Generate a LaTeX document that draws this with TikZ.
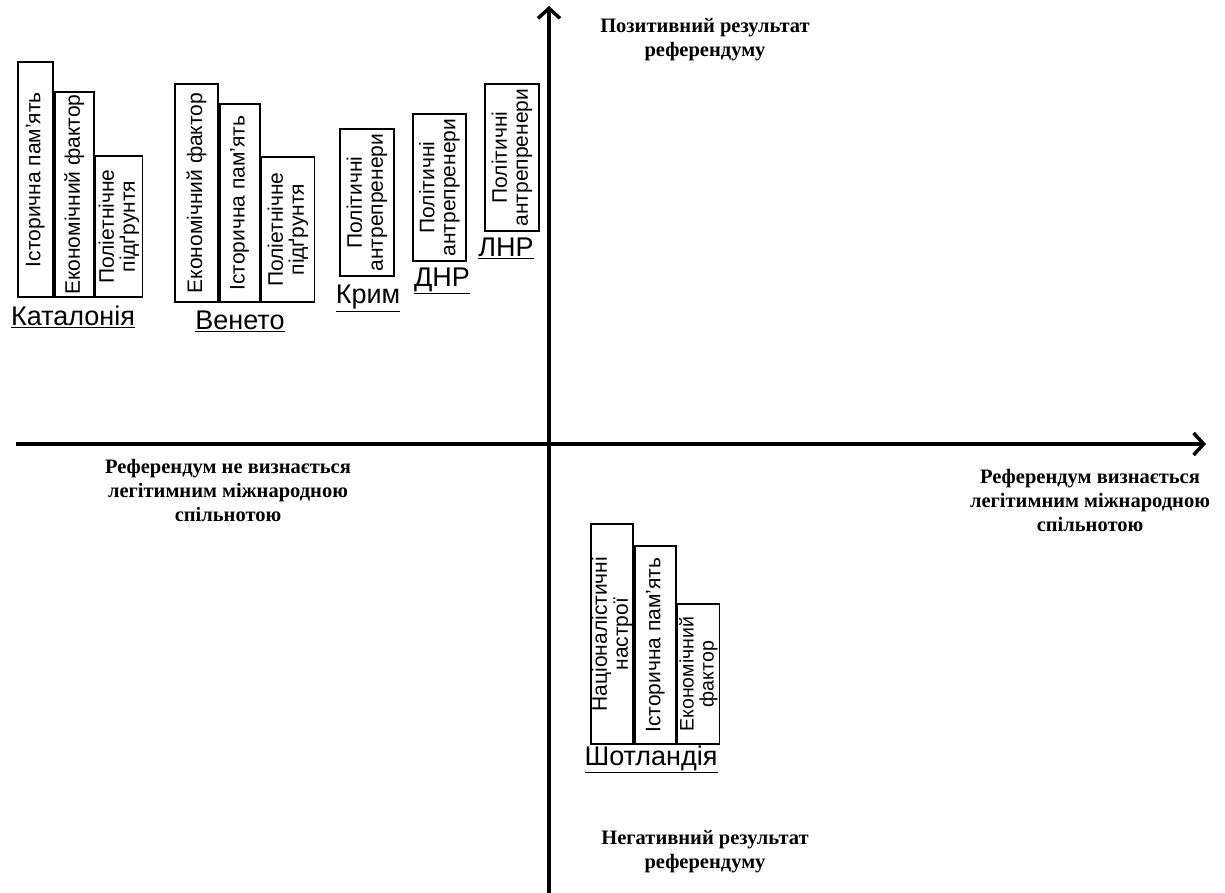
\documentclass[tikz,border=0pt]{standalone}
\usepackage{fontspec}
\setmainfont{Liberation Serif}
\setsansfont{Liberation Sans}
\usetikzlibrary{arrows.meta}
\tikzset{
  axis/.style={line width=3.5pt,-{Straight Barb[length=10pt,width=22pt]}},
  factor/.style={draw,line width=1.8pt,rotate=90,inner sep=0pt,align=center,
    font=\sffamily\fontsize{21}{21}\selectfont},
  region/.style={font=\sffamily\fontsize{27}{29}\selectfont,inner sep=0pt},
  note/.style={align=center,font=\bfseries\fontsize{20.5}{24}\selectfont,inner sep=0pt}
}
\begin{document}
\begin{tikzpicture}[x=1pt,y=1pt]
\useasboundingbox (0,0) rectangle (1225,-893);
%
\coordinate (xl) at (16,-444);
\coordinate (xr) at (1206,-444);
\coordinate (yb) at (549,-893);
\coordinate (yt) at (549,-6);
\draw[axis] (xl) -- (xr);
\draw[axis] (yb) -- (yt);
%
\node[note] (pos) at (705,-40) {Позитивний результат\\референдуму};
\node[note] (neg) at (705,-852) {Негативний результат\\референдуму};
\node[note] (nolegit) at (228,-490) {Референдум не визнається\\легітимним міжнародною\\спільнотою};
\node[note] (legit) at (1090,-500) {Референдум визнається\\легітимним міжнародною\\спільнотою};
%
% Каталонія
\node[factor,minimum width=235,minimum height=35,anchor=north west] (cat1) at (17,-298) {Історична пам'ять};
\node[factor,minimum width=205,minimum height=39,anchor=north west] (cat2) at (cat1.south west) {Економічний фактор};
\node[factor,minimum width=141,minimum height=47,anchor=north west] (cat3) at (cat2.south west) {Поліетнічне\\підґрунтя};
\node[region,anchor=north] (cat) at (73,-306) {\underline{Каталонія}};
%
% Венето
\node[factor,minimum width=218,minimum height=43,anchor=north west] (ven1) at (174,-303) {Економічний фактор};
\node[factor,minimum width=198,minimum height=40,anchor=north west] (ven2) at (ven1.south west) {Історична пам'ять};
\node[factor,minimum width=145,minimum height=53,anchor=north west] (ven3) at (ven2.south west) {Поліетнічне\\підґрунтя};
\node[region,anchor=north] (ven) at (240,-311) {\underline{Венето}};
%
% Крим, ДНР, ЛНР
\node[factor,minimum width=147,minimum height=54,anchor=north west] (krym1) at (339,-277) {Політичні\\антрепренери};
\node[region,anchor=north] (krym) at (368,-285) {\underline{Крим}};
\node[factor,minimum width=147,minimum height=53,anchor=north west] (dnr1) at (412,-262) {Політичні\\антрепренери};
\node[region,anchor=north] (dnr) at (442,-268) {\underline{ДНР}};
\node[factor,minimum width=147,minimum height=54,anchor=north west] (lnr1) at (484,-232) {Політичні\\антрепренери};
\node[region,anchor=north] (lnr) at (506,-238) {\underline{ЛНР}};
%
% Шотландія
\node[factor,minimum width=220,minimum height=42,anchor=north west] (sco1) at (590,-745) {Націоналістичні\\настрої};
\node[factor,minimum width=198,minimum height=41,anchor=north west] (sco2) at (sco1.south west) {Історична пам'ять};
\node[factor,minimum width=140,minimum height=42,anchor=north west,
  font=\sffamily\fontsize{19.5}{20}\selectfont] (sco3) at (sco2.south west) {Економічний\\фактор};
\node[region,anchor=north] (sco) at (651,-746) {\underline{Шотландія}};
\end{tikzpicture}
\end{document}
